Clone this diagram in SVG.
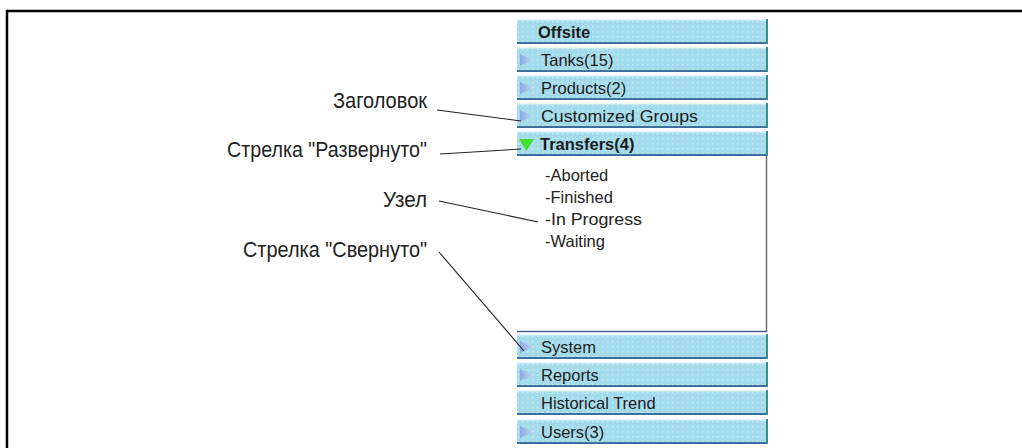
<svg xmlns="http://www.w3.org/2000/svg" width="1022" height="448" viewBox="0 0 1022 448">
  <style>
    .frame { stroke: #000; stroke-width: 2.5; fill: none; }
    .bar-fill { fill: url(#dots); }
    .bar-top { stroke: #e4f6fb; stroke-width: 1.5; }
    .bar-bottom { stroke: #3d6f9c; stroke-width: 2; }
    .bar-right { stroke: #3b8d88; stroke-width: 2; }
    .item { font-family: "Liberation Sans", Arial, sans-serif; font-size: 16.5px; fill: #1c1c1c; }
    .bold { font-weight: bold; }
    .node { font-family: "Liberation Sans", Arial, sans-serif; font-size: 16.5px; fill: #222; }
    .label { font-family: "Liberation Sans", Arial, sans-serif; font-size: 21.5px; fill: #222; }
    .leader { stroke: #222; stroke-width: 1.1; fill: none; }
    .tri { fill: url(#triGrad); }
  </style>
  <defs>
    <pattern id="dots" width="5" height="5" patternUnits="userSpaceOnUse">
      <rect width="5" height="5" fill="#a4dbeb"/>
      <rect x="2" y="2" width="1.4" height="1.4" fill="#c6edf6"/>
    </pattern>
    <linearGradient id="triGrad" x1="0" y1="0" x2="1" y2="0">
      <stop offset="0" stop-color="#8aa8e2"/>
      <stop offset="1" stop-color="#c2d8f4"/>
    </linearGradient>
    <!-- one header bar of the navigation panel -->
    <g id="bar">
      <rect class="bar-fill" x="517" y="0" width="250" height="25"/>
      <line class="bar-top" x1="517" y1="0.8" x2="767" y2="0.8"/>
      <line class="bar-bottom" x1="517" y1="24" x2="767" y2="24"/>
      <line class="bar-right" x1="767" y1="0" x2="767" y2="25"/>
    </g>
    <polygon id="collapsed" points="520,-6 533,0 520,6"/>
  </defs>

  <!-- outer frame (top and left edges) -->
  <polyline class="frame" points="7,448 7,11 1022,11"/>

  <!-- navigation panel -->
  <g id="panel">
    <g id="offsite">
      <use href="#bar" y="19"/>
      <text class="item bold" x="538" y="38">Offsite</text>
    </g>
    <g id="tanks">
      <use href="#bar" y="47"/>
      <use href="#collapsed" class="tri" y="60"/>
      <text class="item" x="541" y="66">Tanks(15)</text>
    </g>
    <g id="products">
      <use href="#bar" y="75"/>
      <use href="#collapsed" class="tri" y="88"/>
      <text class="item" x="541" y="94">Products(2)</text>
    </g>
    <g id="customized-groups">
      <use href="#bar" y="103"/>
      <use href="#collapsed" class="tri" y="116"/>
      <text class="item" x="541" y="122" textLength="157" lengthAdjust="spacingAndGlyphs">Customized Groups</text>
    </g>
    <g id="transfers">
      <use href="#bar" y="131"/>
      <polygon points="519,139 534,139 526.5,151" fill="#46dc2a"/>
      <text class="item bold" x="540" y="150">Transfers(4)</text>
    </g>

    <!-- expanded content of Transfers -->
    <g id="transfers-content">
      <rect x="517" y="156" width="250" height="176" fill="#fff"/>
      <line x1="766.5" y1="156" x2="766.5" y2="332" stroke="#6d6d78" stroke-width="1.5"/>
      <line x1="517" y1="331.5" x2="767" y2="331.5" stroke="#4a5f9a" stroke-width="1.5"/>
      <text class="node" x="545" y="181">-Aborted</text>
      <text class="node" x="545" y="203">-Finished</text>
      <text class="node" x="545" y="225" textLength="97" lengthAdjust="spacingAndGlyphs">-In Progress</text>
      <text class="node" x="545" y="247">-Waiting</text>
    </g>

    <g id="system">
      <use href="#bar" y="334"/>
      <use href="#collapsed" class="tri" y="347"/>
      <text class="item" x="541" y="353">System</text>
    </g>
    <g id="reports">
      <use href="#bar" y="362"/>
      <use href="#collapsed" class="tri" y="375"/>
      <text class="item" x="541" y="381">Reports</text>
    </g>
    <g id="historical-trend">
      <use href="#bar" y="390"/>
      <text class="item" x="541" y="409">Historical Trend</text>
    </g>
    <g id="users">
      <use href="#bar" y="419"/>
      <use href="#collapsed" class="tri" y="432"/>
      <text class="item" x="541" y="438">Users(3)</text>
    </g>
  </g>

  <!-- callout labels -->
  <g id="label-header">
    <text class="label" x="333" y="108" textLength="94" lengthAdjust="spacingAndGlyphs">Заголовок</text>
  </g>
  <g id="label-expanded">
    <text class="label" x="227" y="157" textLength="200" lengthAdjust="spacingAndGlyphs">Стрелка "Развернуто"</text>
  </g>
  <g id="label-node">
    <text class="label" x="383" y="207" textLength="44" lengthAdjust="spacingAndGlyphs">Узел</text>
  </g>
  <g id="label-collapsed">
    <text class="label" x="243" y="257" textLength="184" lengthAdjust="spacingAndGlyphs">Стрелка "Свернуто"</text>
  </g>

  <!-- leader lines -->
  <g id="connectors">
    <line class="leader" x1="437" y1="110" x2="521" y2="121"/>
    <line class="leader" x1="440" y1="154" x2="521" y2="149"/>
    <line class="leader" x1="439" y1="201" x2="538" y2="222"/>
    <line class="leader" x1="439" y1="252" x2="524" y2="351"/>
  </g>
</svg>
